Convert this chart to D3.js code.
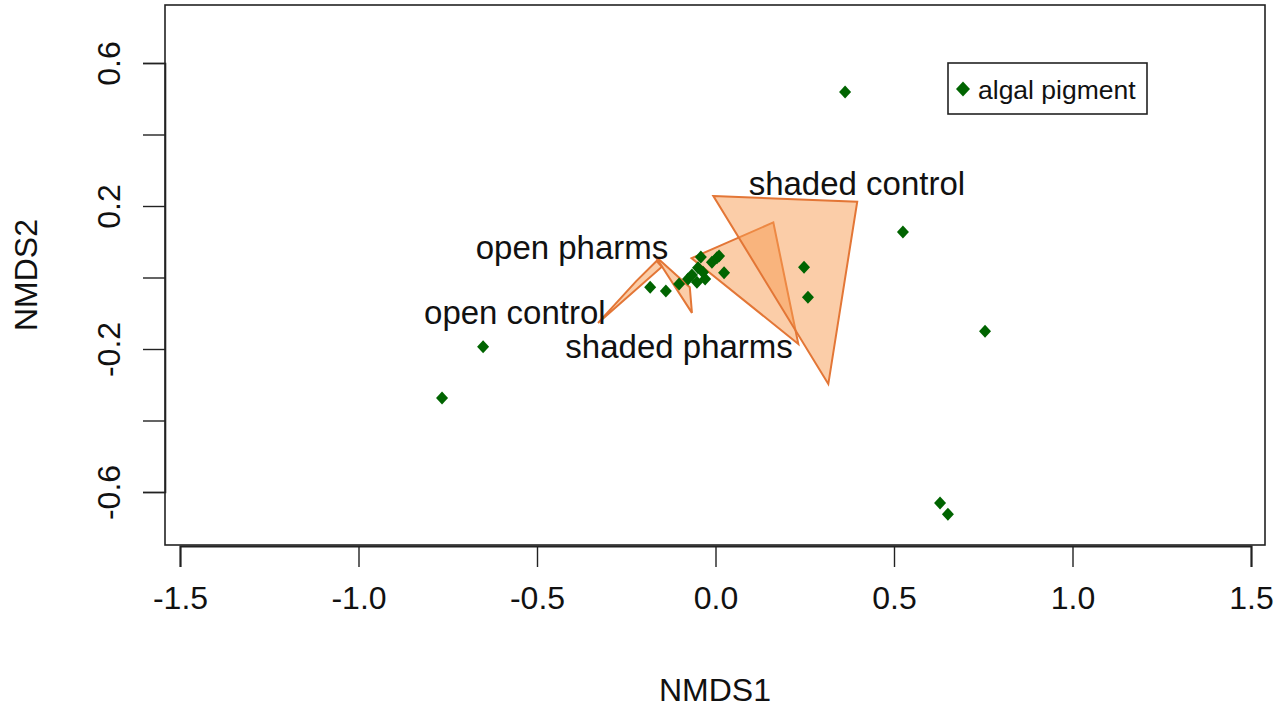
<!DOCTYPE html>
<html>
<head>
<meta charset="utf-8">
<script src="https://cdn.jsdelivr.net/npm/d3@7"></script>
<style>
  html, body { margin: 0; padding: 0; background: #fff; }
  svg { display: block; font-family: "Liberation Sans", Arial, Helvetica, sans-serif; }
</style>
</head>
<body>
<svg id="chart" width="1287" height="709"></svg>
<script>
// ---- data ----
const xTicks = [-1.5, -1.0, -0.5, 0.0, 0.5, 1.0, 1.5];
const xTickLabels = ["-1.5", "-1.0", "-0.5", "0.0", "0.5", "1.0", "1.5"];
const yTicks = [-0.6, -0.4, -0.2, 0.0, 0.2, 0.4, 0.6];
const yTickLabels = ["-0.6", "", "-0.2", "", "0.2", "", "0.6"];

// species scores (algal pigment)
const pigmentX = [0.363, 0.525, 0.755, -0.651, -0.766, 0.629, 0.651, 0.248, 0.259, -0.183, -0.139,
                  -0.102, -0.077, -0.066, -0.052, -0.049, -0.041, -0.035, -0.029, -0.010, 0.004, 0.010, 0.024];
const pigmentY = [0.519, 0.127, -0.150, -0.194, -0.337, -0.631, -0.662, 0.029, -0.055, -0.027, -0.038,
                  -0.018, -0.004, 0.007, -0.013, 0.027, 0.057, 0.015, -0.004, 0.043, 0.055, 0.060, 0.013];

// group hulls
const groupNames = ["open control", "open pharms", "shaded pharms", "shaded control"];
const hullOpenControlX = [-0.329, -0.222, -0.165, -0.150];
const hullOpenControlY = [-0.127, -0.010, 0.046, 0.030];
const hullOpenPharmsX = [-0.169, -0.072, -0.066];
const hullOpenPharmsY = [0.060, -0.027, -0.099];
const hullShadedPharmsX = [-0.067, 0.162, 0.232];
const hullShadedPharmsY = [0.054, 0.154, -0.186];
const hullShadedControlX = [-0.006, 0.397, 0.316];
const hullShadedControlY = [0.228, 0.212, -0.298];

// group label positions
const labelX = [-0.562, -0.402, -0.102, 0.396];
const labelY = [-0.099, 0.085, -0.194, 0.264];

const legendLabel = "algal pigment";

// ---- drawing ----
const svg = d3.select("#chart");
const box = { left: 165, right: 1265, top: 5, bottom: 545 };

const x = d3.scaleLinear().domain([-1.5, 1.5]).range([180, 1251]);
const y = d3.scaleLinear().domain([-0.6, 0.6]).range([492, 63]);

const hulls = [
  d3.zip(hullOpenControlX, hullOpenControlY),
  d3.zip(hullOpenPharmsX, hullOpenPharmsY),
  d3.zip(hullShadedPharmsX, hullShadedPharmsY),
  d3.zip(hullShadedControlX, hullShadedControlY)
];

const line = d3.line().x(d => x(d[0])).y(d => y(d[1])).curve(d3.curveLinearClosed);

svg.append("g").selectAll("path.hull")
  .data(hulls)
  .join("path")
  .attr("class", "hull")
  .attr("d", d => line(d))
  .attr("fill", "rgba(247,155,81,0.5)")
  .attr("stroke", "#E37636")
  .attr("stroke-width", 2)
  .attr("stroke-linejoin", "miter");

// points
const diamond = "M0,-6.5L6,0L0,6.5L-6,0Z";
svg.append("g").selectAll("path.pt")
  .data(d3.range(pigmentX.length))
  .join("path")
  .attr("class", "pt")
  .attr("d", diamond)
  .attr("transform", i => `translate(${x(pigmentX[i])},${y(pigmentY[i])})`)
  .attr("fill", "#006400");

// group labels
svg.append("g").selectAll("text.glab")
  .data(groupNames)
  .join("text")
  .attr("class", "glab")
  .attr("x", (d, i) => x(labelX[i]))
  .attr("y", (d, i) => y(labelY[i]))
  .attr("text-anchor", "middle")
  .attr("dominant-baseline", "central")
  .attr("font-size", 33)
  .attr("fill", "#111")
  .text(d => d);

// box
svg.append("rect")
  .attr("x", box.left).attr("y", box.top)
  .attr("width", box.right - box.left).attr("height", box.bottom - box.top)
  .attr("fill", "none").attr("stroke", "#222").attr("stroke-width", 1.6);

// x axis (R style)
const xAxis = d3.axisBottom(x).tickValues(xTicks).tickSize(21).tickFormat((d, i) => xTickLabels[i]);
const gx = svg.append("g").attr("transform", `translate(0,${box.bottom + 1})`).call(xAxis);
gx.select(".domain").attr("stroke", "#222").attr("stroke-width", 2);
gx.selectAll(".tick line").attr("stroke", "#222").attr("stroke-width", 1.4);
gx.selectAll(".tick text").attr("font-size", 32).attr("font-family", "Liberation Sans, Arial, sans-serif")
  .attr("fill", "#111").attr("y", 52).attr("dy", 0)
  .attr("dominant-baseline", "central");

// y axis
const yAxis = d3.axisLeft(y).tickValues(yTicks).tickSize(22).tickFormat((d, i) => yTickLabels[i]);
const gy = svg.append("g").attr("transform", `translate(${box.left},0)`).call(yAxis);
gy.select(".domain").attr("stroke", "#222").attr("stroke-width", 1.6);
gy.selectAll(".tick line").attr("stroke", "#222").attr("stroke-width", 1.4);
gy.selectAll(".tick text").attr("font-size", 32).attr("font-family", "Liberation Sans, Arial, sans-serif")
  .attr("fill", "#111")
  .attr("x", null).attr("dy", null)
  .attr("text-anchor", "middle")
  .attr("transform", "translate(-45,0) rotate(-90)")
  .attr("y", 0);

// axis titles
svg.append("text")
  .attr("x", (box.left + box.right) / 2).attr("y", 701)
  .attr("text-anchor", "middle").attr("font-size", 32).attr("fill", "#111")
  .text("NMDS1");
svg.append("text")
  .attr("transform", `translate(37,${(box.top + box.bottom) / 2}) rotate(-90)`)
  .attr("text-anchor", "middle").attr("font-size", 32).attr("fill", "#111")
  .text("NMDS2");

// legend
const lg = svg.append("g").attr("transform", "translate(948,63)");
lg.append("rect").attr("width", 199).attr("height", 51)
  .attr("fill", "#fff").attr("stroke", "#222").attr("stroke-width", 1.6);
lg.append("path").attr("d", "M0,-7.5L7,0L0,7.5L-7,0Z").attr("transform", "translate(15,26)").attr("fill", "#006400");
lg.append("text").attr("x", 30).attr("y", 27).attr("dominant-baseline", "central")
  .attr("font-size", 26.5).attr("fill", "#111").text(legendLabel);
</script>
</body>
</html>
